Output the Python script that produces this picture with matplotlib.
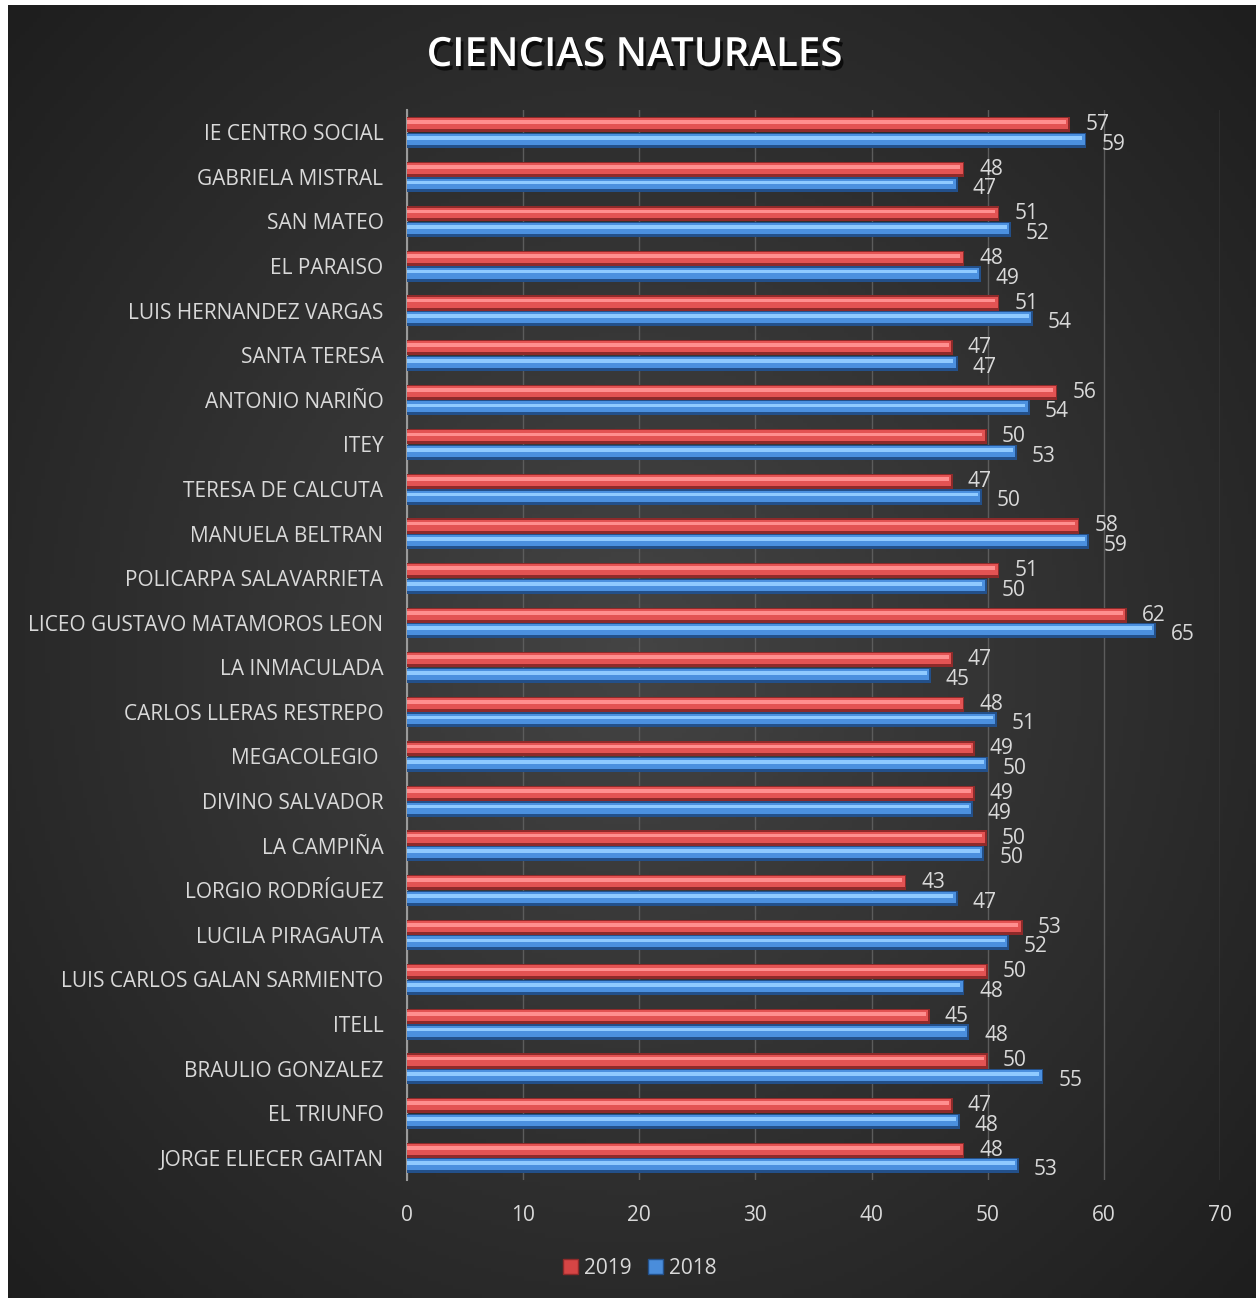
import numpy as np
import matplotlib.pyplot as plt
import matplotlib.patheffects as pe
from matplotlib.patches import Patch
from matplotlib.colors import LinearSegmentedColormap

# --- DATA (top to bottom, as shown) ---
schools = [
    "IE CENTRO SOCIAL", "GABRIELA MISTRAL", "SAN MATEO", "EL PARAISO",
    "LUIS HERNANDEZ VARGAS", "SANTA TERESA", "ANTONIO NARIÑO", "ITEY",
    "TERESA DE CALCUTA", "MANUELA BELTRAN", "POLICARPA SALAVARRIETA",
    "LICEO GUSTAVO MATAMOROS LEON", "LA INMACULADA", "CARLOS LLERAS RESTREPO",
    "MEGACOLEGIO ", "DIVINO SALVADOR", "LA CAMPIÑA", "LORGIO RODRÍGUEZ",
    "LUCILA PIRAGAUTA", "LUIS CARLOS GALAN SARMIENTO", "ITELL",
    "BRAULIO GONZALEZ", "EL TRIUNFO", "JORGE ELIECER GAITAN",
]
# bar lengths
vals_2019 = [57.1, 48.0, 51.0, 48.0, 51.0, 47.0, 56.0, 49.9, 47.0, 57.9, 51.0, 62.0,
             47.0, 48.0, 48.9, 48.9, 49.9, 43.0, 53.0, 50.0, 45.0, 50.0, 47.0, 48.0]
vals_2018 = [58.5, 47.4, 52.0, 49.4, 53.9, 47.4, 53.6, 52.5, 49.5, 58.7, 49.9, 64.5,
             45.1, 50.8, 50.0, 48.7, 49.7, 47.4, 51.8, 48.0, 48.4, 54.8, 47.6, 52.7]
# data labels as printed
lbl_2019 = [57, 48, 51, 48, 51, 47, 56, 50, 47, 58, 51, 62,
            47, 48, 49, 49, 50, 43, 53, 50, 45, 50, 47, 48]
lbl_2018 = [59, 47, 52, 49, 54, 47, 54, 53, 50, 59, 50, 65,
            45, 51, 50, 49, 50, 47, 52, 48, 48, 55, 48, 53]
years = ["2019", "2018"]

W, H = 1259, 1300
TXT = "#d9d9d9"
FONT = "Open Sans"
FS = 15

fig = plt.figure(figsize=(W / 100, H / 100), dpi=100, facecolor="white")

# dark radial background panel
bg = fig.add_axes([8 / W, 2 / H, 1248 / W, 1293 / H])
yy, xx = np.mgrid[-1:1:300j, -1:1:300j]
r = np.sqrt(xx ** 2 + (yy * 0.95) ** 2)
bg_cmap = LinearSegmentedColormap.from_list("bg", ["#444444", "#303030", "#1c1c1c"])
bg.imshow(r, cmap=bg_cmap, vmin=0, vmax=1.45, aspect="auto", extent=[0, 1, 0, 1])
bg.axis("off")

ax = fig.add_axes([407 / W, 1 - 1180 / H, (1220 - 407) / W, (1180 - 110) / H])
ax.patch.set_alpha(0)

y = np.arange(len(schools))
h = 0.34
off_r, off_b = -0.17, 0.18


def bar3d(ypos, vals, dark, mid, light):
    # layered bars fake the bevelled 3D look
    ax.barh(ypos, vals, height=h, color=dark, zorder=3)
    ax.barh(ypos - h * 0.06, np.array(vals) - 0.15, height=h * 0.72, color=mid, zorder=4)
    ax.barh(ypos - h * 0.16, np.array(vals) - 0.35, height=h * 0.24, color=light, zorder=5)


bar3d(y + off_r, vals_2019, "#8e2a2a", "#e35353", "#ff8f8f")
bar3d(y + off_b, vals_2018, "#23508a", "#4b90df", "#8fcaff")

for i in range(len(schools)):
    ax.annotate(str(lbl_2019[i]), (vals_2019[i], y[i] + off_r), xytext=(15, 0),
                textcoords="offset pixels", va="center", ha="left",
                color=TXT, fontsize=FS, family=FONT, zorder=6)
    ax.annotate(str(lbl_2018[i]), (vals_2018[i], y[i] + off_b), xytext=(15, -4),
                textcoords="offset pixels", va="center", ha="left",
                color=TXT, fontsize=FS, family=FONT, zorder=6)

ax.set_xlim(0, 70)
ax.set_ylim(len(schools) - 0.5, -0.5)
ax.set_xticks(np.arange(0, 71, 10))
ax.set_yticks(y)
ax.set_yticklabels(schools)
ax.tick_params(axis="both", length=0, colors=TXT, labelsize=FS)
ax.tick_params(axis="y", pad=17)
ax.tick_params(axis="x", pad=18)
for lab in ax.get_xticklabels() + ax.get_yticklabels():
    lab.set_family(FONT)
ax.grid(axis="x", color="#5c5c5c", lw=1, zorder=0)
ax.set_axisbelow(True)
for s in ["top", "right", "bottom"]:
    ax.spines[s].set_visible(False)
ax.spines["left"].set_color("#9a9a9a")
ax.spines["left"].set_linewidth(1.5)

fig.text(634 / W, 1 - 56 / H, "CIENCIAS NATURALES", ha="center", va="center",
         color="white", fontsize=29, fontweight="semibold", family=FONT,
         path_effects=[pe.withSimplePatchShadow(offset=(2, -3), shadow_rgbFace="black", alpha=0.7)])

handles = [Patch(facecolor="#d64545", edgecolor="#8e2a2a"),
           Patch(facecolor="#4a8ddb", edgecolor="#23508a")]
leg = fig.legend(handles, years, loc="center", bbox_to_anchor=(640 / W, 1 - 1268 / H),
                 ncol=2, frameon=False, handlelength=0.7, handleheight=0.7,
                 handletextpad=0.3, columnspacing=0.8,
                 prop={"family": FONT, "size": FS})
for t in leg.get_texts():
    t.set_color(TXT)

fig.savefig("out.png", dpi=100, facecolor="white")
